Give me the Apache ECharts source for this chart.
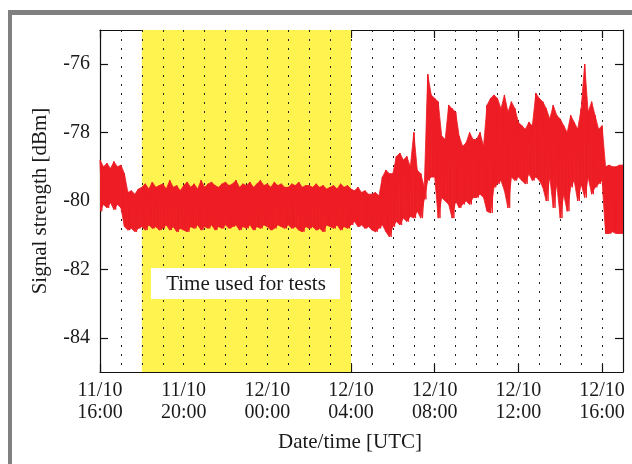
<!DOCTYPE html>
<html><head><meta charset="utf-8">
<script src="https://cdn.jsdelivr.net/npm/echarts@6/dist/echarts.min.js"></script>
<style>html,body{margin:0;padding:0;background:#fff}#c{width:632px;height:464px}</style>
</head><body><div id="c"></div>
<script>
// time axis: hours after 11/10 16:00 UTC; samples are 10-minute bins (upper / lower envelope of the noisy signal)
const binMinutes = 10;
const tickHours = [0, 4, 8, 12, 16, 20, 24];
const tickLabels = ['11/10\n16:00', '11/10\n20:00', '12/10\n00:00', '12/10\n04:00', '12/10\n08:00', '12/10\n12:00', '12/10\n16:00'];
const yTicks = [-84, -82, -80, -78, -76];
const testWindow = [2, 12]; // 18:00 .. 04:00
const boxText = 'Time used for tests';

const hi = [
 -78.8,-79.0,-78.9,-79.05,-78.85,-79.0,
 -78.95,-79.2,-79.75,-79.7,-79.8,-79.65,
 -79.6,-79.5,-79.65,-79.45,-79.6,-79.55,
 -79.5,-79.65,-79.4,-79.6,-79.55,-79.7,
 -79.55,-79.45,-79.6,-79.5,-79.65,-79.4,
 -79.6,-79.5,-79.45,-79.55,-79.6,-79.5,
 -79.45,-79.55,-79.5,-79.4,-79.6,-79.5,
 -79.55,-79.45,-79.6,-79.5,-79.4,-79.55,
 -79.5,-79.6,-79.45,-79.55,-79.5,-79.6,
 -79.6,-79.5,-79.55,-79.45,-79.6,-79.55,
 -79.55,-79.6,-79.5,-79.6,-79.55,-79.65,
 -79.6,-79.55,-79.65,-79.5,-79.6,-79.55,
 -79.65,-79.7,-79.6,-79.75,-79.7,-79.8,
 -79.8,-79.75,-79.85,-79.3,-79.1,-79.2,
 -79.2,-78.7,-78.6,-78.8,-78.7,-79.0,
 -78.0,-79.1,-79.2,-79.6,-76.3,-76.9,
 -77.0,-77.1,-78.1,-78.2,-77.2,-77.3,
 -77.4,-78.1,-78.4,-78.3,-78.0,-78.2,
 -78.2,-78.0,-78.4,-77.2,-77.0,-76.9,
 -77.0,-77.3,-76.9,-77.4,-77.1,-77.3,
 -77.7,-77.8,-77.9,-77.7,-77.8,-76.85,
 -77.0,-77.1,-77.3,-77.6,-77.2,-77.5,
 -77.6,-77.8,-78.0,-77.5,-77.7,-77.9,
 -77.3,-76.0,-77.4,-77.1,-77.5,-77.9,
 -77.8,-79.0,-78.95,-79.0,-79.0,-78.95
];
const lo = [
 -80.3,-80.1,-80.2,-80.05,-80.25,-80.1,
 -80.2,-80.75,-80.85,-80.8,-80.9,-80.8,
 -80.75,-80.85,-80.7,-80.8,-80.75,-80.85,
 -80.8,-80.7,-80.85,-80.75,-80.9,-80.8,
 -80.85,-80.9,-80.75,-80.8,-80.7,-80.85,
 -80.75,-80.8,-80.7,-80.85,-80.75,-80.8,
 -80.7,-80.8,-80.75,-80.7,-80.85,-80.75,
 -80.8,-80.7,-80.85,-80.75,-80.8,-80.7,
 -80.75,-80.85,-80.8,-80.7,-80.75,-80.8,
 -80.7,-80.8,-80.75,-80.85,-80.9,-80.75,
 -80.8,-80.75,-80.85,-80.8,-80.9,-80.7,
 -80.75,-80.8,-80.7,-80.85,-80.75,-80.8,
 -80.7,-80.6,-80.75,-80.7,-80.8,-80.75,
 -80.85,-80.9,-80.8,-80.7,-80.9,-81.05,
 -80.75,-80.6,-80.7,-80.5,-80.6,-80.45,
 -80.5,-80.3,-80.5,-79.95,-79.4,-79.3,
 -79.3,-80.5,-79.9,-80.0,-80.1,-80.5,
 -80.0,-80.2,-80.1,-80.0,-80.1,-79.9,
 -79.9,-79.8,-79.9,-80.3,-80.35,-79.6,
 -79.5,-79.4,-79.7,-80.2,-79.3,-79.4,
 -79.3,-79.4,-79.5,-79.2,-79.4,-79.3,
 -79.4,-79.6,-80.0,-79.3,-80.2,-79.5,
 -80.5,-79.8,-80.3,-79.6,-79.4,-80.0,
 -79.5,-79.9,-79.3,-79.8,-79.6,-79.5,
 -79.4,-80.95,-80.95,-80.9,-80.95,-80.95
];

// each bin: [tStart, hi, lo, tNext, hiNext, loNext] -> filled band segment
const band = [];
for (let i = 0; i < hi.length; i++) {
  const t0 = i * binMinutes / 60;
  const j = Math.min(i + 1, hi.length - 1);
  band.push([t0, hi[i], lo[i], (i + 1) * binMinutes / 60, hi[j], lo[j]]);
}
// zigzag trace (upper value at bin start, lower value at bin middle)
const trace = [];
for (let i = 0; i < hi.length; i++) {
  const t = i * binMinutes / 60;
  trace.push([t, hi[i]]);
  trace.push([t + binMinutes / 120, lo[i]]);
}

const FONT = "'Liberation Serif', 'Times New Roman', serif";
const RED = '#ee1d25';
const chart = echarts.init(document.getElementById('c'), null, {renderer: 'canvas'});
const axisCol = '#111';
chart.setOption({
  animation: false,
  backgroundColor: '#fff',
  grid: {left: 100, top: 30, width: 523, height: 342, containLabel: false},
  xAxis: [
    { type: 'value', min: 0, max: 25, position: 'bottom',
      axisLine: {show: true, onZero: false, lineStyle: {color: axisCol, width: 1.2}},
      axisTick: {show: true, inside: true, length: 8, customValues: tickHours, lineStyle: {color: axisCol, width: 1.2}},
      axisLabel: {show: true, customValues: tickHours, margin: 8, fontFamily: FONT, fontSize: 20, lineHeight: 22, color: '#1a1a1a',
        formatter: v => { const k = tickHours.indexOf(v); return k >= 0 ? tickLabels[k] : ''; }},
      splitLine: {show: false}
    },
    { type: 'value', min: 0, max: 25, interval: 1, position: 'bottom', z: 3,
      axisLine: {show: false}, axisTick: {show: false}, axisLabel: {show: false},
      splitLine: {show: true, showMinLine: false, showMaxLine: false, lineStyle: {color: '#222', width: 1, type: [2, 7]}}
    },
    { type: 'value', min: 0, max: 25, position: 'top',
      axisLine: {show: true, onZero: false, lineStyle: {color: axisCol, width: 1.2}},
      axisTick: {show: true, inside: true, length: 8, customValues: tickHours, lineStyle: {color: axisCol, width: 1.2}},
      axisLabel: {show: false}, splitLine: {show: false}
    }
  ],
  yAxis: [
    { type: 'value', min: -85, max: -75, position: 'left',
      axisLine: {show: true, onZero: false, lineStyle: {color: axisCol, width: 1.2}},
      axisTick: {show: true, inside: true, length: 8, customValues: yTicks, lineStyle: {color: axisCol, width: 1.2}},
      axisLabel: {show: true, customValues: yTicks, margin: 10, fontFamily: FONT, fontSize: 20, color: '#1a1a1a'},
      splitLine: {show: false}
    },
    { type: 'value', min: -85, max: -75, position: 'right',
      axisLine: {show: true, onZero: false, lineStyle: {color: axisCol, width: 1.2}},
      axisTick: {show: true, inside: true, length: 8, customValues: yTicks, lineStyle: {color: axisCol, width: 1.2}},
      axisLabel: {show: false}, splitLine: {show: false}
    }
  ],
  series: [
    { type: 'line', data: [], z: 1, silent: true,
      markArea: {silent: true, itemStyle: {color: '#fff350', opacity: 1},
        data: [[{xAxis: testWindow[0], yAxis: -85}, {xAxis: testWindow[1], yAxis: -75}]]}
    },
    { type: 'custom', data: band, z: 5, silent: true, clip: true,
      encode: {x: [0, 3], y: [1, 2, 4, 5]},
      renderItem: (params, api) => {
        const a = api.coord([api.value(0), api.value(1)]);
        const b = api.coord([api.value(3), api.value(4)]);
        const c = api.coord([api.value(3), api.value(5)]);
        const d = api.coord([api.value(0), api.value(2)]);
        return {type: 'polygon', shape: {points: [a, b, c, d]}, style: {fill: RED, stroke: RED, lineWidth: 0.8}};
      }
    },
    { type: 'line', data: trace, z: 6, showSymbol: false, symbol: 'none', silent: true,
      lineStyle: {color: RED, width: 1}, clip: true }
  ],
  graphic: [
    {type: 'rect', shape: {x: 8, y: 10, width: 630, height: 5}, style: {fill: '#808080'}, z: 10},
    {type: 'rect', shape: {x: 8, y: 10, width: 4, height: 460}, style: {fill: '#808080'}, z: 10},
    {type: 'rect', shape: {x: 151, y: 268, width: 189, height: 31}, style: {fill: '#ffffff'}, z: 20},
    {type: 'text', x: 246, y: 284, z: 21, style: {text: boxText, fontFamily: FONT, fontSize: 21, fill: '#1a1a1a', align: 'center', verticalAlign: 'middle'}},
    {type: 'text', x: 350, y: 442, z: 21, style: {text: 'Date/time [UTC]', fontFamily: FONT, fontSize: 21, fill: '#1a1a1a', align: 'center', verticalAlign: 'middle'}},
    {type: 'text', x: 40, y: 201, rotation: Math.PI / 2, z: 21, style: {text: 'Signal strength [dBm]', fontFamily: FONT, fontSize: 21, fill: '#1a1a1a', align: 'center', verticalAlign: 'middle'}}
  ]
});
</script></body></html>
